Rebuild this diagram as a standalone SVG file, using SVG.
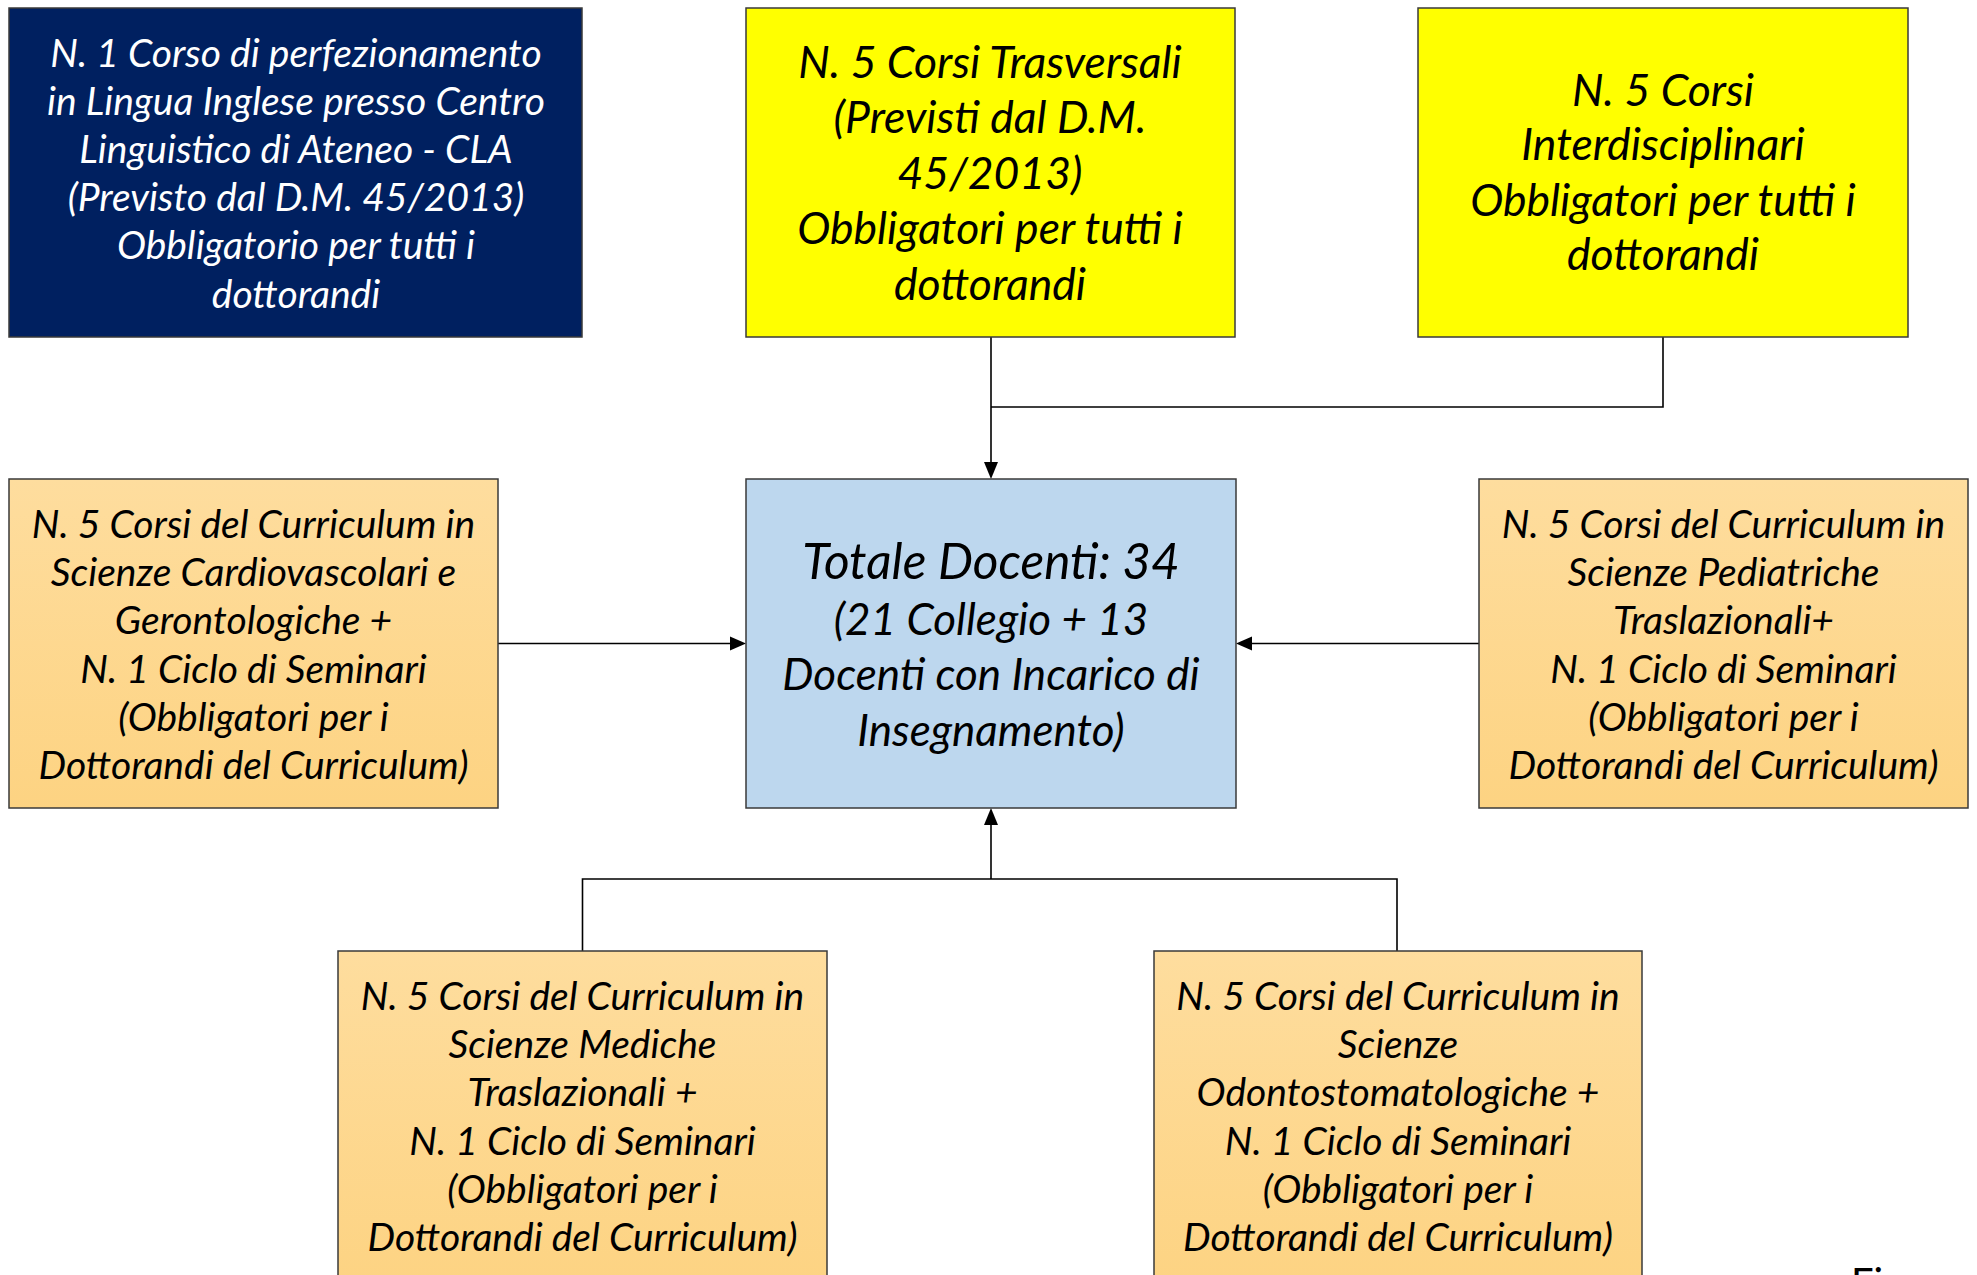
<svg xmlns="http://www.w3.org/2000/svg" width="1977" height="1275" viewBox="0 0 1977 1275">
<defs>
<linearGradient id="og" x1="0" y1="0" x2="0" y2="1">
<stop offset="0" stop-color="#FEDD9E"/>
<stop offset="1" stop-color="#FDD382"/>
</linearGradient>
<style>
.box{stroke:#3a3a3a;stroke-width:1.5}
.t{font-family:Lato,"Open Sans","Liberation Sans",sans-serif;font-style:italic;text-anchor:middle;fill:#000}
.w{fill:#fff}
.s40{font-size:39px}
.s46{font-size:44.5px}
.con{fill:none;stroke:#000;stroke-width:1.6}
.ah{fill:#000}
</style>
</defs>
<rect width="1977" height="1275" fill="#fff"/>
<g id="connectors">
<path class="con" d="M1663,337 V407 H991"/>
<path class="con" d="M991,337 V463"/>
<path class="ah" d="M984,462 L998,462 L991,479 z"/>
<path class="con" d="M498,643.5 H731"/>
<path class="ah" d="M730,636.5 L730,650.5 L746,643.5 z"/>
<path class="con" d="M1479,643.5 H1251"/>
<path class="ah" d="M1252,636.5 L1252,650.5 L1236,643.5 z"/>
<path class="con" d="M582.5,951 V879 H1397 V951"/>
<path class="con" d="M991,879 V824"/>
<path class="ah" d="M984,825 L998,825 L991,808 z"/>
</g>
<g id="n-cla">
<rect class="box" x="9" y="8" width="573" height="329" fill="#002060"/>
<text class="t w s40"><tspan x="296" y="67">N. 1 Corso di perfezionamento</tspan><tspan x="296" y="115">in Lingua Inglese presso Centro</tspan><tspan x="296" y="163">Linguistico di Ateneo - CLA</tspan><tspan x="296" y="211">(Previsto dal D.M. 45/2013)</tspan><tspan x="296" y="259">Obbligatorio per tutti i</tspan><tspan x="296" y="308">dottorandi</tspan></text>
</g>
<g id="n-trasversali">
<rect class="box" x="746" y="8" width="489" height="329" fill="#FFFF00"/>
<text class="t s46"><tspan x="990" y="78">N. 5 Corsi Trasversali</tspan><tspan x="990" y="133">(Previsti dal D.M.</tspan><tspan x="990" y="189">45/2013)</tspan><tspan x="990" y="244">Obbligatori per tutti i</tspan><tspan x="990" y="300">dottorandi</tspan></text>
</g>
<g id="n-interdisciplinari">
<rect class="box" x="1418" y="8" width="490" height="329" fill="#FFFF00"/>
<text class="t s46"><tspan x="1663" y="106">N. 5 Corsi</tspan><tspan x="1663" y="160">Interdisciplinari</tspan><tspan x="1663" y="216">Obbligatori per tutti i</tspan><tspan x="1663" y="270">dottorandi</tspan></text>
</g>
<g id="n-cardio">
<rect class="box" x="9" y="479" width="489" height="329" fill="url(#og)"/>
<text class="t s40"><tspan x="253.5" y="538">N. 5 Corsi del Curriculum in</tspan><tspan x="253.5" y="586">Scienze Cardiovascolari e</tspan><tspan x="253.5" y="634">Gerontologiche +</tspan><tspan x="253.5" y="683">N. 1 Ciclo di Seminari</tspan><tspan x="253.5" y="731">(Obbligatori per i</tspan><tspan x="253.5" y="779">Dottorandi del Curriculum)</tspan></text>
</g>
<g id="n-totale">
<rect class="box" x="746" y="479" width="490" height="329" fill="#BDD7EE"/>
<text class="t"><tspan x="991" y="579" style="font-size:49.5px">Totale Docenti: 34</tspan><tspan x="991" y="635" style="font-size:44px">(21 Collegio + 13</tspan><tspan x="991" y="690" style="font-size:44px">Docenti con Incarico di</tspan><tspan x="991" y="746" style="font-size:44px">Insegnamento)</tspan></text>
</g>
<g id="n-pediatriche">
<rect class="box" x="1479" y="479" width="489" height="329" fill="url(#og)"/>
<text class="t s40"><tspan x="1723.5" y="538">N. 5 Corsi del Curriculum in</tspan><tspan x="1723.5" y="586">Scienze Pediatriche</tspan><tspan x="1723.5" y="634">Traslazionali+</tspan><tspan x="1723.5" y="683">N. 1 Ciclo di Seminari</tspan><tspan x="1723.5" y="731">(Obbligatori per i</tspan><tspan x="1723.5" y="779">Dottorandi del Curriculum)</tspan></text>
</g>
<g id="n-mediche">
<rect class="box" x="338" y="951" width="489" height="340" fill="url(#og)"/>
<text class="t s40"><tspan x="582.5" y="1010">N. 5 Corsi del Curriculum in</tspan><tspan x="582.5" y="1058">Scienze Mediche</tspan><tspan x="582.5" y="1106">Traslazionali +</tspan><tspan x="582.5" y="1155">N. 1 Ciclo di Seminari</tspan><tspan x="582.5" y="1203">(Obbligatori per i</tspan><tspan x="582.5" y="1251">Dottorandi del Curriculum)</tspan></text>
</g>
<g id="n-odonto">
<rect class="box" x="1154" y="951" width="488" height="340" fill="url(#og)"/>
<text class="t s40"><tspan x="1398" y="1010">N. 5 Corsi del Curriculum in</tspan><tspan x="1398" y="1058">Scienze</tspan><tspan x="1398" y="1106">Odontostomatologiche +</tspan><tspan x="1398" y="1155">N. 1 Ciclo di Seminari</tspan><tspan x="1398" y="1203">(Obbligatori per i</tspan><tspan x="1398" y="1251">Dottorandi del Curriculum)</tspan></text>
</g>
<text x="1851" y="1297" style="font-family:Lato,'Liberation Sans',sans-serif;font-size:40px;fill:#000">Fi</text>
</svg>
